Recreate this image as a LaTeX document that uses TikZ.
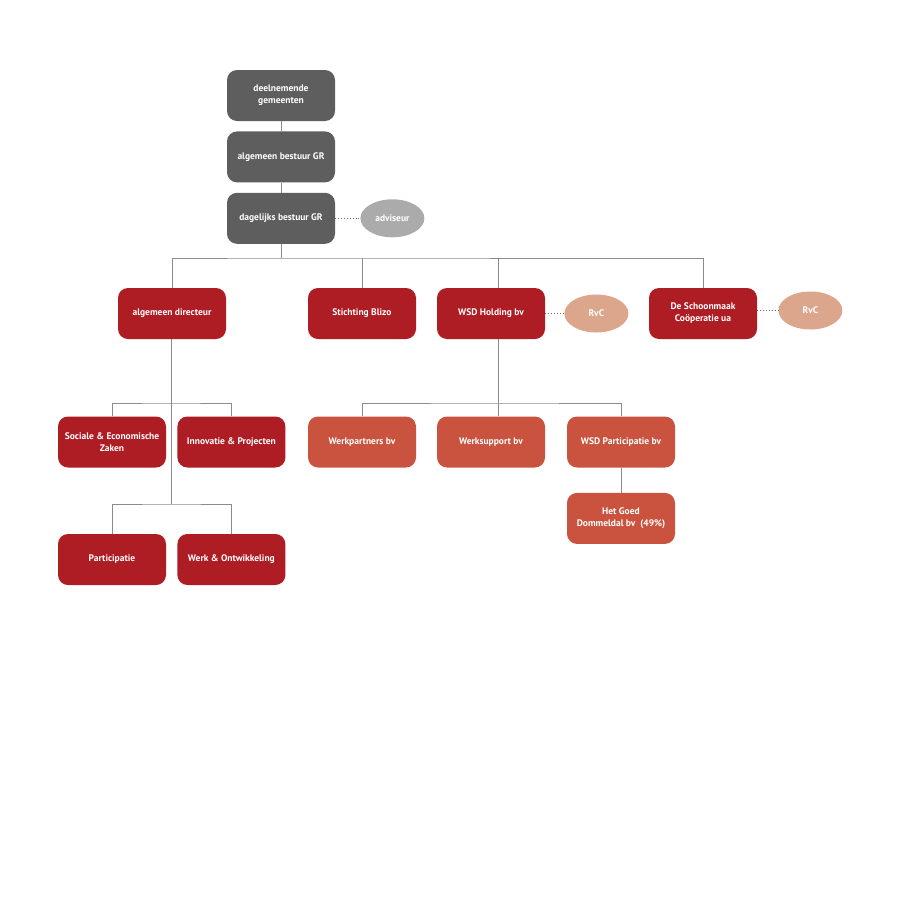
\documentclass[tikz,border=0pt]{standalone}
\usepackage{fontspec}
\setmainfont{PT Sans}
\usetikzlibrary{positioning,shapes.geometric}
\definecolor{boxgrey}{HTML}{5E5E5E}
\definecolor{wsdred}{HTML}{AE1C24}
\definecolor{wsdorange}{HTML}{C9533F}
\definecolor{advgrey}{HTML}{ABABAB}
\definecolor{rvcpink}{HTML}{DCA68D}
\definecolor{linegrey}{HTML}{8C8C8C}
\definecolor{dotgrey}{HTML}{6E6E6E}
\tikzset{
  unit/.style={rectangle, rounded corners=10pt, minimum width=108pt, minimum height=51pt,
    inner sep=2pt, align=center, text=white, font=\bfseries\fontsize{9.5}{12}\selectfont},
  bestuur/.style={unit, fill=boxgrey},
  dienst/.style={unit, fill=wsdred},
  bedrijf/.style={unit, fill=wsdorange},
  advies/.style={ellipse, minimum width=64pt, minimum height=38pt, inner sep=0pt,
    text=white, font=\bfseries\fontsize{9.5}{12}\selectfont},
  link/.style={draw=linegrey, line width=0.8pt},
  toezicht/.style={draw=dotgrey, dotted, line width=0.9pt}
}
\begin{document}
\begin{tikzpicture}[x=1pt,y=-1pt]
 \fill[white] (0,0) rectangle (900,900);
 \useasboundingbox (0,0) rectangle (900,900);
 % bestuur
 \node[bestuur] (gemeenten) at (281,95.5) {deelnemende\\gemeenten};
 \node[bestuur, below=10pt of gemeenten] (ab) {algemeen bestuur GR};
 \node[bestuur, below=10pt of ab] (db) {dagelijks bestuur GR};
 \node[advies, fill=advgrey, right=25pt of db] (adviseur) {adviseur};
 % tweede laag
 \node[dienst] (directeur) at (172,313.5) {algemeen directeur};
 \node[dienst] (blizo) at (362,313.5) {Stichting Blizo};
 \node[dienst] (holding) at (491,313.5) {WSD Holding bv};
 \node[advies, fill=rvcpink, right=19pt of holding] (rvc1) {RvC};
 \node[dienst] (schoonmaak) at (703,313.5) {De Schoonmaak\\Coöperatie ua};
 \node[advies, fill=rvcpink, right=21pt of schoonmaak, yshift=3pt] (rvc2) {RvC};
 % afdelingen
 \node[dienst] (sez) at (112,442) {Sociale \& Economische\\Zaken};
 \node[dienst, right=11pt of sez] (innovatie) {Innovatie \& Projecten};
 \node[dienst] (participatie) at (112,559.5) {Participatie};
 \node[dienst, right=11pt of participatie] (werk) {Werk \& Ontwikkeling};
 % bv's
 \node[bedrijf] (werkpartners) at (362,442) {Werkpartners bv};
 \node[bedrijf] (werksupport) at (491,442) {Werksupport bv};
 \node[bedrijf] (wsdpart) at (621,442) {WSD Participatie bv};
 \node[bedrijf, below=25pt of wsdpart] (hetgoed) {Het Goed\\Dommeldal bv~ (49\%)};
 \coordinate (bus) at (281,258);
 \coordinate (sezbus) at (171,403);
 \coordinate (afdbus) at (171,504);
 \coordinate (bvbus) at (498,403);
 \draw[link] (gemeenten) -- (ab) -- (db) -- (bus);
 \draw[link] (directeur.north) |- (bus) -| (schoonmaak.north);
 \draw[link] (blizo.north) -- (blizo.north |- bus);
 \draw[link] ([xshift=7pt]holding.north) -- ([xshift=7pt]holding.north |- bus);
 \draw[link] ([xshift=-1pt]directeur.south) -- (afdbus);
 \draw[link] (sez.north) |- (sezbus) -| (innovatie.north);
 \draw[link] (participatie.north) |- (afdbus) -| (werk.north);
 \draw[link] ([xshift=7pt]holding.south) -- (bvbus);
 \draw[link] (werkpartners.north) |- (bvbus) -| (wsdpart.north);
 \draw[link] ([xshift=7pt]werksupport.north) -- (bvbus);
 \draw[link] (wsdpart) -- (hetgoed);
 \draw[toezicht] (db.east) -- (adviseur.west);
 \draw[toezicht] (holding.east) -- (rvc1.west);
 \draw[toezicht] (schoonmaak.east |- rvc2) -- (rvc2.west);
\end{tikzpicture}
\end{document}
